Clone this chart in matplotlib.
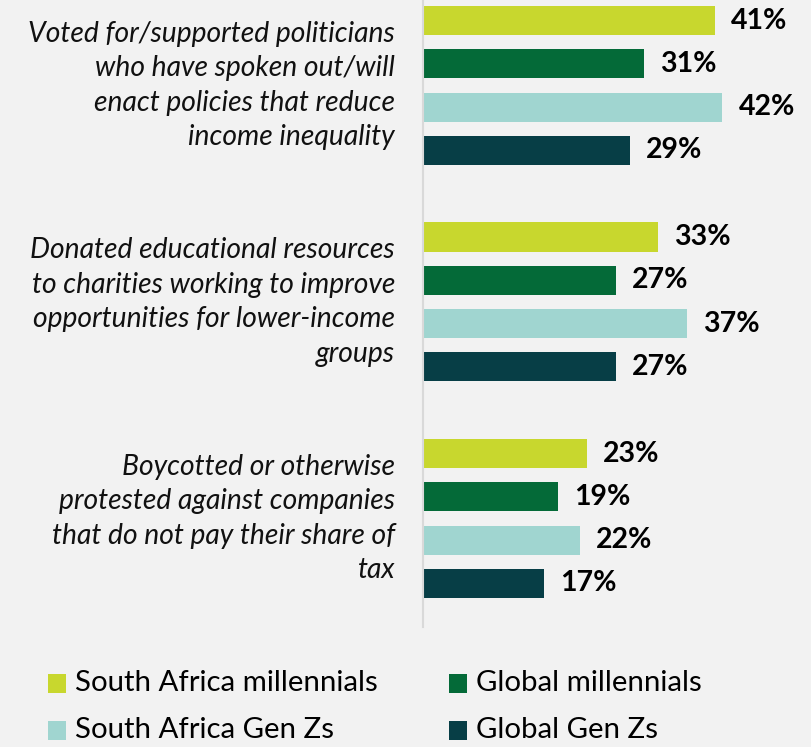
import matplotlib
matplotlib.use("Agg")
import matplotlib.pyplot as plt
from matplotlib.patches import Rectangle

categories = [
    "Voted for/supported politicians\nwho have spoken out/will\nenact policies that reduce\nincome inequality",
    "Donated educational resources\nto charities working to improve\nopportunities for lower-income\ngroups",
    "Boycotted or otherwise\nprotested against companies\nthat do not pay their share of\ntax",
]
series_names = ["South Africa millennials", "Global millennials",
                "South Africa Gen Zs", "Global Gen Zs"]
values = [
    [41, 33, 23],   # South Africa millennials
    [31, 27, 19],   # Global millennials
    [42, 37, 22],   # South Africa Gen Zs
    [29, 27, 17],   # Global Gen Zs
]
colors = ["#c8d72e", "#046a38", "#a0d5d0", "#073e46"]

W, H, DPI = 811, 747, 100
bg = "#f2f2f2"
fig = plt.figure(figsize=(W / DPI, H / DPI), dpi=DPI, facecolor=bg)
plt.rcParams['font.family'] = ['Lato', 'DejaVu Sans']

ax_left_px, ax_top_px, ax_bot_px = 423, 0, 627
px_per_unit = 7.13
ax_w_px = W - ax_left_px
ax = fig.add_axes([ax_left_px / W, 1 - ax_bot_px / H, ax_w_px / W, (ax_bot_px - ax_top_px) / H])
ax.set_facecolor(bg)
ax.set_xlim(0, ax_w_px / px_per_unit)
pitch = 43.3
ax.set_ylim((ax_bot_px - 20.5) / pitch, -20.5 / pitch)

for j, (name, vals) in enumerate(zip(series_names, values)):
    pos = [i * 5 + j for i in range(len(categories))]
    ax.barh(pos, vals, height=0.67, color=colors[j], edgecolor='none')
    for p, v in zip(pos, vals):
        ax.annotate(f"{v}%", xy=(v, p), xytext=(16, 0), textcoords='offset pixels',
                    ha='left', va='center', fontsize=20.5, fontweight='bold', color='black')

for i, cat in enumerate(categories):
    ax.annotate(cat, xy=(0, i * 5 + 1.5), xycoords=('axes fraction', 'data'),
                xytext=(-28, 0), textcoords='offset pixels', ha='right', va='center',
                fontsize=20.3, fontstyle='italic', color='#111111', linespacing=1.4,
                annotation_clip=False)

for s in ['top', 'right', 'bottom']:
    ax.spines[s].set_visible(False)
ax.spines['left'].set_color('#d9d9d9')
ax.spines['left'].set_linewidth(1.5)
ax.set_xticks([])
ax.set_yticks([])

# legend
leg_pos = [(48, 683), (449, 683), (48, 730), (449, 730)]
for (x, y), name, c in zip(leg_pos, series_names, colors):
    fig.add_artist(Rectangle((x / W, 1 - (y + 9.5) / H), 18 / W, 19 / H,
                             transform=fig.transFigure, color=c, lw=0))
    fig.text((x + 27) / W, 1 - y / H, name, ha='left', va='center',
             fontsize=21.2, color='black')

fig.savefig("out.png", dpi=DPI, facecolor=bg)
